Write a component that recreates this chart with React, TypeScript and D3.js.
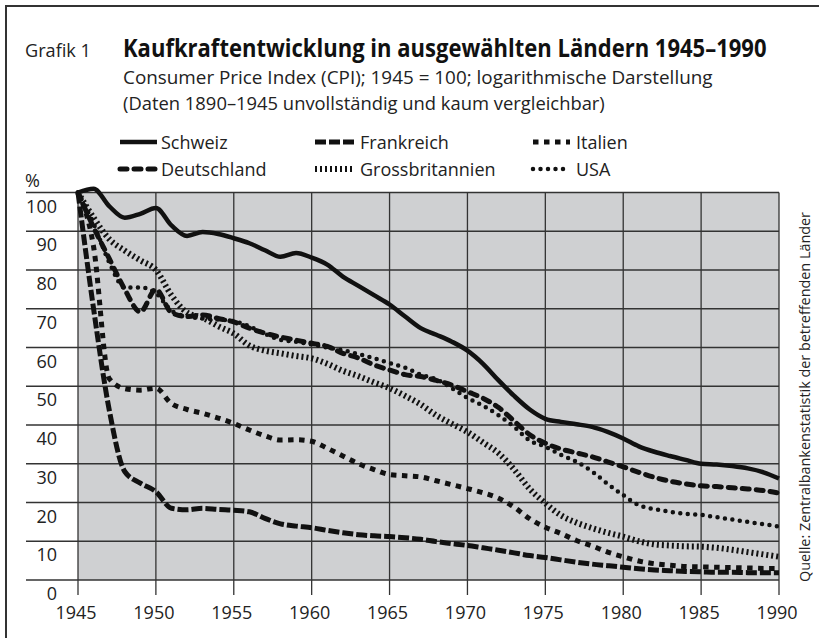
import React, { useLayoutEffect, useRef, useState } from 'react';
import * as d3 from 'd3';

// Jahre 1945–1990
const years = d3.range(1945, 1991);

// Kaufkraft (CPI, 1945 = 100)
const schweiz = [
  100, 101, 96.5, 93.5, 94.5, 96, 91.5, 88.8, 89.8, 89.3,
  88.2, 86.9, 85.1, 83.4, 84.4, 83.2, 81.4, 78.3, 75.9, 73.5,
  71.1, 68, 65, 63.3, 61.5, 59.2, 55.8, 51.5, 47.5, 44,
  41.6, 40.8, 40.2, 39.5, 38.2, 36.5, 34.5, 33.1, 32, 31,
  30, 29.8, 29.4, 28.8, 27.8, 26.2,
];
const frankreich = [
  100, 70, 44, 28, 25, 22.8, 18.5, 18.1, 18.5, 18.2,
  18, 17.6, 15.9, 14.5, 13.9, 13.5, 12.8, 12.2, 11.7, 11.4,
  11.2, 10.9, 10.5, 9.9, 9.4, 8.9, 8.3, 7.7, 7, 6.3,
  5.8, 5.2, 4.6, 4.1, 3.7, 3.3, 2.9, 2.6, 2.4, 2.2,
  2.1, 2.0, 2.0, 1.9, 1.9, 1.9,
];
const italien = [
  100, 86, 52, 49.4, 49, 49.5, 45.5, 44, 43, 41.8,
  40.4, 38.7, 37.2, 36.1, 36.2, 35.8, 34, 32, 30, 28.5,
  27.2, 26.9, 26.6, 25.6, 24.6, 23.6, 22.5, 21.1, 18.8, 15.8,
  13.6, 12, 10.2, 8.8, 7.2, 6.0, 4.9, 4.2, 3.8, 3.5,
  3.4, 3.3, 3.2, 3.1, 3.0, 3.0,
];
const deutschland = [
  100, 91, 83, 75, 69.2, 75, 69, 68, 68.4, 67.5,
  66.6, 65, 63.7, 62.7, 61.9, 61.1, 60.3, 58.5, 57.3, 55.5,
  54.2, 53, 52.5, 51.5, 50.3, 48.6, 46.9, 44.5, 41, 37.5,
  35.3, 33.8, 32.8, 31.8, 30.5, 29.2, 27.8, 26.5, 25.5, 24.8,
  24.3, 24.1, 23.8, 23.5, 23.1, 22.4,
];
const grossbritannien = [
  100, 93.5, 88, 85, 82.5, 80, 73.5, 69, 67.7, 65.5,
  63.6, 60.5, 59.2, 58.5, 57.8, 57.2, 55.8, 54, 52.6, 51,
  49.5, 47.5, 45.3, 42.5, 40.3, 38.2, 35.5, 32.7, 28.5, 23.5,
  19.8, 16.7, 14.8, 13.4, 12.2, 11.2, 10, 9.2, 8.9, 8.7,
  8.6, 8.3, 7.8, 7.2, 6.6, 6.0,
];
const usa = [
  100, 92, 82, 75.5, 75.5, 74, 69.5, 68, 67.5, 67.2,
  66.8, 65.5, 63.5, 62, 61.5, 60.8, 60, 59.3, 58.3, 57.2,
  56, 54.8, 53, 51.8, 49.5, 47, 45, 42.5, 39.5, 36,
  34.4, 32.3, 30.5, 28, 24.8, 21.9, 19.3, 18.3, 17.6, 17.1,
  16.8, 16.2, 15.6, 15, 14.4, 13.8,
];

const xTicks = [1945, 1950, 1955, 1960, 1965, 1970, 1975, 1980, 1985, 1990];
const yTicks = [0, 10, 20, 30, 40, 50, 60, 70, 80, 90, 100];

// Linienstile je Land
const styles: Record<string, { width: number; dash: string; cap: 'butt' | 'round' | 'square' }> = {
  Schweiz: { width: 4.5, dash: 'none', cap: 'butt' },
  Frankreich: { width: 5, dash: '11 3', cap: 'butt' },
  Italien: { width: 5, dash: '5.5 5.5', cap: 'butt' },
  Deutschland: { width: 5, dash: '7 7', cap: 'round' },
  Grossbritannien: { width: 6, dash: '2 3', cap: 'butt' },
  USA: { width: 4.5, dash: '0 7.5', cap: 'round' },
};

const series = [
  { name: 'Grossbritannien', values: grossbritannien },
  { name: 'USA', values: usa },
  { name: 'Deutschland', values: deutschland },
  { name: 'Italien', values: italien },
  { name: 'Frankreich', values: frankreich },
  { name: 'Schweiz', values: schweiz },
];

const legendRows = [
  ['Schweiz', 'Frankreich', 'Italien'],
  ['Deutschland', 'Grossbritannien', 'USA'],
];

const W = 819;
const H = 638;
const font = '"Open Sans", "DejaVu Sans", sans-serif';
const ink = '#222';

// Text, der horizontal auf eine feste Breite gestaucht wird
function FitText(props: {
  x: number;
  y: number;
  width: number;
  fontSize: number;
  fontWeight?: number;
  fill?: string;
  children: string;
}) {
  const ref = useRef<SVGTextElement>(null);
  const [sx, setSx] = useState(1);
  useLayoutEffect(() => {
    if (!ref.current) return;
    const w = ref.current.getComputedTextLength();
    if (w > 0) setSx(props.width / w);
  }, [props.width, props.children]);
  return (
    <text
      ref={ref}
      transform={`translate(${props.x},${props.y}) scale(${sx},1)`}
      fontSize={props.fontSize}
      fontWeight={props.fontWeight}
      fill={props.fill || ink}
    >
      {props.children}
    </text>
  );
}

export default function App() {
  const x = d3.scaleLinear().domain([1945, 1990]).range([78, 779]);
  const y = d3.scaleLinear().domain([0, 100]).range([580, 192.5]);

  const line = d3
    .line<number>()
    .x((_, i) => x(years[i]))
    .y((d) => y(d))
    .curve(d3.curveMonotoneX);

  const legendX = [
    { x0: 120, x1: 157, tx: 161 },
    { x0: 315, x1: 355, tx: 360 },
    { x0: 533, x1: 570, tx: 576 },
  ];
  const legendY = [142, 169];

  return (
    <svg
      width={W}
      height={H}
      style={{ position: 'absolute', left: 0, top: 0, background: '#fff' }}
      fontFamily={font}
    >
      {/* Rahmen */}
      <path d={`M6,${H} V6 H${W}`} fill="none" stroke="#333" strokeWidth={2} />

      {/* Titel */}
      <FitText x={25} y={57} width={66} fontSize={18.5}>
        Grafik 1
      </FitText>
      <FitText x={123} y={57} width={644} fontSize={25} fontWeight={700} fill="#111">
        Kaufkraftentwicklung in ausgewählten Ländern 1945–1990
      </FitText>
      <FitText x={123} y={84} width={590} fontSize={17.5}>
        Consumer Price Index (CPI); 1945 = 100; logarithmische Darstellung
      </FitText>
      <FitText x={123} y={109.5} width={482} fontSize={17.5}>
        (Daten 1890–1945 unvollständig und kaum vergleichbar)
      </FitText>

      {/* Legende */}
      {legendRows.map((row, r) =>
        row.map((name, c) => {
          const s = styles[name];
          const lx = legendX[c];
          return (
            <g key={name}>
              <line
                x1={lx.x0}
                x2={lx.x1}
                y1={legendY[r]}
                y2={legendY[r]}
                stroke="#111"
                strokeWidth={s.width}
                strokeDasharray={s.dash}
                strokeLinecap={s.cap}
              />
              <text x={lx.tx} y={legendY[r] + 7} fontSize={18} fill={ink}>
                {name}
              </text>
            </g>
          );
        })
      )}

      {/* Diagrammfläche */}
      <rect x={x(1945)} y={y(100)} width={x(1990) - x(1945)} height={y(0) - y(100)} fill="#cfd0d2" />

      {yTicks.map((t) => (
        <g key={`y${t}`}>
          <line x1={26} x2={x(1990)} y1={y(t)} y2={y(t)} stroke="#333" strokeWidth={1.3} />
          <text x={57} y={y(t) + 20} fontSize={18} textAnchor="end" fill={ink}>
            {t}
          </text>
        </g>
      ))}
      {xTicks.map((t) => (
        <g key={`x${t}`}>
          <line x1={x(t)} x2={x(t)} y1={y(100)} y2={595} stroke="#333" strokeWidth={1.3} />
          <text x={x(t) - 2} y={619} fontSize={18} textAnchor="middle" fill={ink}>
            {t}
          </text>
        </g>
      ))}
      <text x={25} y={187} fontSize={18} fill={ink}>
        %
      </text>

      {/* Linien */}
      {series.map((s) => {
        const st = styles[s.name];
        return (
          <path
            key={s.name}
            d={line(s.values) || ''}
            fill="none"
            stroke="#111"
            strokeWidth={st.width}
            strokeDasharray={st.dash}
            strokeLinecap={st.cap}
            strokeLinejoin="round"
          />
        );
      })}

      {/* Quelle */}
      <text
        transform="translate(810,582) rotate(-90)"
        fontSize={15}
        fill={ink}
        textLength={370}
        lengthAdjust="spacingAndGlyphs"
      >
        Quelle: Zentralbankenstatistik der betreffenden Länder
      </text>
    </svg>
  );
}
